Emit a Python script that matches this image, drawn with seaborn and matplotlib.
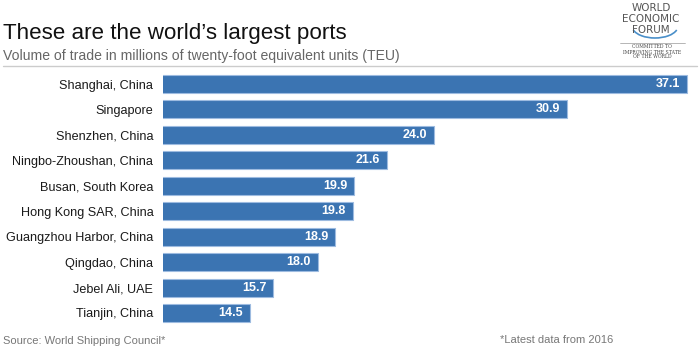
import matplotlib
matplotlib.use("Agg")
import matplotlib.pyplot as plt
import seaborn as sns
import pandas as pd
from matplotlib.patches import Arc
from matplotlib.lines import Line2D

ports = ["Shanghai, China", "Singapore", "Shenzhen, China", "Ningbo-Zhoushan, China",
         "Busan, South Korea", "Hong Kong SAR, China", "Guangzhou Harbor, China",
         "Qingdao, China", "Jebel Ali, UAE", "Tianjin, China"]
teu = [37.1, 30.9, 24.0, 21.6, 19.9, 19.8, 18.9, 18.0, 15.7, 14.5]
value_labels = ["37.1", "30.9", "24.0", "21.6", "19.9", "19.8", "18.9", "18.0", "15.7", "14.5"]

title = "These are the world\u2019s largest ports"
subtitle = "Volume of trade in millions of twenty-foot equivalent units (TEU)"
source = "Source: World Shipping Council*"
note = "*Latest data from 2016"

sns.set_theme(style="white")
plt.rcParams['font.family'] = ['Liberation Sans', 'DejaVu Sans']

df = pd.DataFrame({"port": ports, "teu": teu})

W, H = 700, 350
fig = plt.figure(figsize=(7, 3.5), dpi=100)
ax = fig.add_axes([163 / W, 1 - 325.7 / H, (690 - 163) / W, (325.7 - 71.3) / H])

bar_color = "#3b74b2"
sns.barplot(data=df, x="teu", y="port", orient="h", color=bar_color, width=0.71,
            edgecolor="#9dbbe0", linewidth=0.8, saturation=1, ax=ax)
ax.set_xlim(10, 10 + (690 - 163) / 19.34)
ax.set_xlabel("")
ax.set_ylabel("")
ax.set_xticks([])
for s in ax.spines.values():
    s.set_visible(False)
ax.tick_params(axis="y", length=0, pad=7, labelsize=9.1, labelcolor="#1a1a1a")

for i, (v, lab) in enumerate(zip(teu, value_labels)):
    ax.annotate(lab, xy=(v, i), xytext=(-5, 0), textcoords="offset points",
                ha="right", va="center", color="white", fontsize=9, fontweight="bold")

fig.text(3 / W, 1 - 39 / H, title, fontsize=16.1, color="#111111", ha="left", va="baseline")
fig.text(3 / W, 1 - 60 / H, subtitle, fontsize=10.1, color="#666666", ha="left", va="baseline")
fig.add_artist(Line2D([3 / W, 697 / W], [1 - 65.5 / H, 1 - 65.5 / H], color="#cccccc", lw=1,
                      transform=fig.transFigure))

fig.text(3 / W, 1 - 341 / H, source, fontsize=8, color="#777777", ha="left", va="center")
fig.text(500 / W, 1 - 340 / H, note, fontsize=8, color="#777777", ha="left", va="center")

# logo (decorative)
lx = 651 / W
for yy, t in [(8, "WORLD"), (19, "ECONOMIC"), (30, "FORUM")]:
    fig.text(lx, 1 - yy / H, t, fontsize=7.5, color="#555555", ha="center", va="center",
             family=["DejaVu Sans"])
fig.add_artist(Arc((655 / W, 1 - 26 / H), 46 / W, 24 / H, theta1=200, theta2=340,
                   color="#4a8fc9", lw=1.2, transform=fig.transFigure))
fig.add_artist(Line2D([620 / W, 685 / W], [1 - 43 / H, 1 - 43 / H], color="#999999", lw=0.5,
                      transform=fig.transFigure))
for yy, t in [(47, "COMMITTED TO"), (52, "IMPROVING THE STATE"), (57, "OF THE WORLD")]:
    fig.text(652 / W, 1 - yy / H, t, fontsize=3.3, color="#444444", ha="center", va="center",
             family=["DejaVu Serif"])

fig.savefig("out.png", dpi=100)
